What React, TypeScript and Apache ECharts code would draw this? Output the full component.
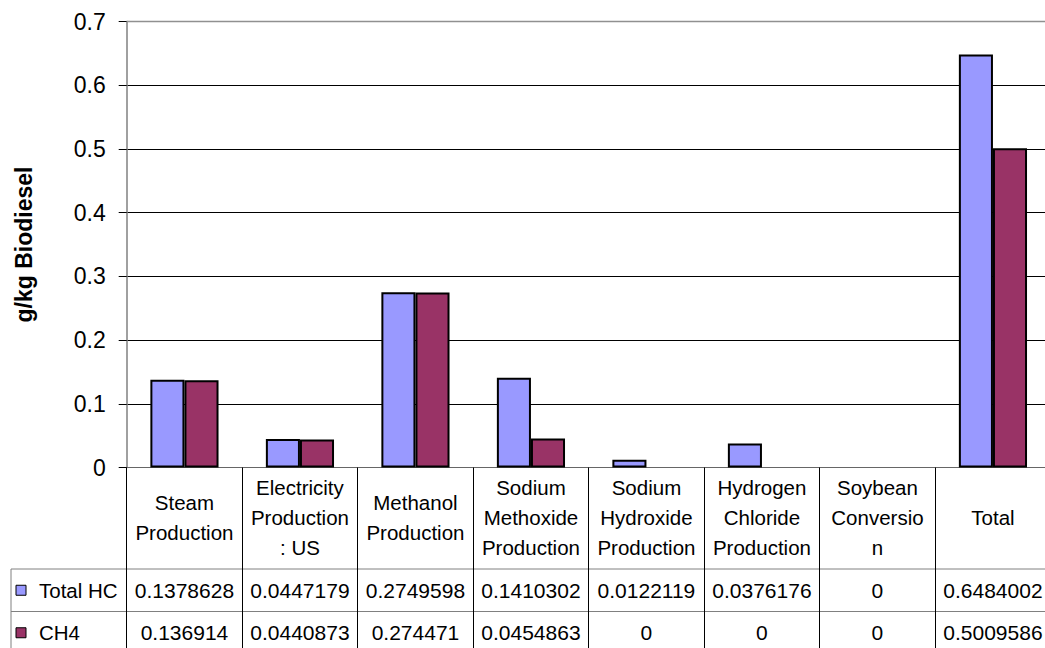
import React, { useEffect, useRef } from "react";
import * as echarts from "echarts";

const categories = [
  "Steam\nProduction",
  "Electricity\nProduction\n: US",
  "Methanol\nProduction",
  "Sodium\nMethoxide\nProduction",
  "Sodium\nHydroxide\nProduction",
  "Hydrogen\nChloride\nProduction",
  "Soybean\nConversio\nn",
  "Total",
];
const seriesNames = ["Total HC", "CH4"];
const totalHC = [0.1378628, 0.0447179, 0.2749598, 0.1410302, 0.0122119, 0.0376176, 0, 0.6484002];
const ch4 = [0.136914, 0.0440873, 0.274471, 0.0454863, 0, 0, 0, 0.5009586];
const seriesValues = [totalHC, ch4];
const colors = ["#9999FF", "#993366"];
const yMin = 0;
const yMax = 0.7;
const yInterval = 0.1;
const yTitle = "g/kg Biodiesel";

const FONT = "'Liberation Sans', Arial, sans-serif";

export default function App() {
  const ref = useRef<HTMLDivElement>(null);
  useEffect(() => {
    if (!ref.current) return;
    const chart = echarts.init(ref.current, null, { renderer: "svg" });
    const gridTop = 21.5;
    const gridLeft = 126.7;
    const gridHeight = 446;
    const gridWidth = 924;
    const option: any = {
      animation: false,
      backgroundColor: "#ffffff",
      textStyle: { fontFamily: FONT },
      grid: {
        left: gridLeft,
        top: gridTop,
        width: gridWidth,
        height: gridHeight,
        show: false,
        containLabel: false,
        outerBoundsMode: "none",
      },
      xAxis: {
        type: "category",
        data: categories,
        axisLine: { show: true, lineStyle: { color: "#666666", width: 1 } },
        axisTick: { show: true, length: 187, lineStyle: { color: "#000000", width: 1 } },
        axisLabel: {
          interval: 0,
          color: "#000000",
          fontSize: 20.5,
          fontFamily: FONT,
          lineHeight: 30,
          verticalAlign: "middle",
          margin: 50,
        },
        splitLine: { show: false },
      },
      yAxis: {
        type: "value",
        min: yMin,
        max: yMax,
        interval: yInterval,
        name: yTitle,
        nameLocation: "middle",
        nameRotate: 90,
        nameGap: 91,
        nameTextStyle: { fontSize: 23, fontWeight: "bold", color: "#000000", fontFamily: FONT },
        axisLine: { show: true, lineStyle: { color: "#808080", width: 1.5 } },
        axisTick: { show: true, length: 8, lineStyle: { color: "#000000" } },
        axisLabel: { color: "#000000", fontSize: 23, fontFamily: FONT, margin: 21 },
        splitLine: { show: true, lineStyle: { color: "#000000", width: 1 } },
      },
      series: seriesNames.map((name, si) => ({
        name,
        type: "bar",
        barGap: "0%",
        barCategoryGap: "41%",
        data: seriesValues[si].map((v) =>
          v === 0 ? { value: v, itemStyle: { borderWidth: 0 } } : v
        ),
        itemStyle: { color: colors[si], borderColor: "#000000", borderWidth: 2 },
      })),
    };
    chart.setOption(option);

    const graphics: any[] = [];
    graphics.push({
      type: "line",
      shape: { x1: gridLeft, y1: gridTop, x2: 1050, y2: gridTop },
      style: { stroke: "#909090", lineWidth: 1.5 },
      z: 10,
    });
    const row1Top = 569;
    const row2Top = 611.5;
    const rowH = 42.5;
    [row1Top, row2Top].forEach((y) =>
      graphics.push({
        type: "line",
        shape: { x1: 11, y1: y, x2: 1050, y2: y },
        style: { stroke: "#808080", lineWidth: 1 },
      })
    );
    graphics.push({
      type: "line",
      shape: { x1: 11, y1: row1Top, x2: 11, y2: 660 },
      style: { stroke: "#808080", lineWidth: 1 },
    });
    seriesNames.forEach((name, si) => {
      const cy = (si === 0 ? row1Top : row2Top) + rowH / 2;
      graphics.push({
        type: "rect",
        shape: { x: 16, y: cy - 5, width: 10, height: 10 },
        style: { fill: colors[si], stroke: "#000000", lineWidth: 1 },
      });
      graphics.push({
        type: "text",
        x: 39,
        y: cy,
        style: {
          text: name,
          fontSize: 20.5,
          fontFamily: FONT,
          fill: "#000000",
          verticalAlign: "middle",
          align: "left",
        },
      });
      seriesValues[si].forEach((v, ci) => {
        const px = chart.convertToPixel({ xAxisIndex: 0 }, ci) as number;
        graphics.push({
          type: "text",
          x: px,
          y: cy,
          style: {
            text: String(v),
            fontSize: 21,
            fontFamily: FONT,
            fill: "#000000",
            verticalAlign: "middle",
            align: "center",
          },
        });
      });
    });
    chart.setOption({ graphic: graphics });
    return () => chart.dispose();
  }, []);
  return (
    <div
      ref={ref}
      style={{ position: "absolute", left: 0, top: 0, width: 1045, height: 648 }}
    />
  );
}
